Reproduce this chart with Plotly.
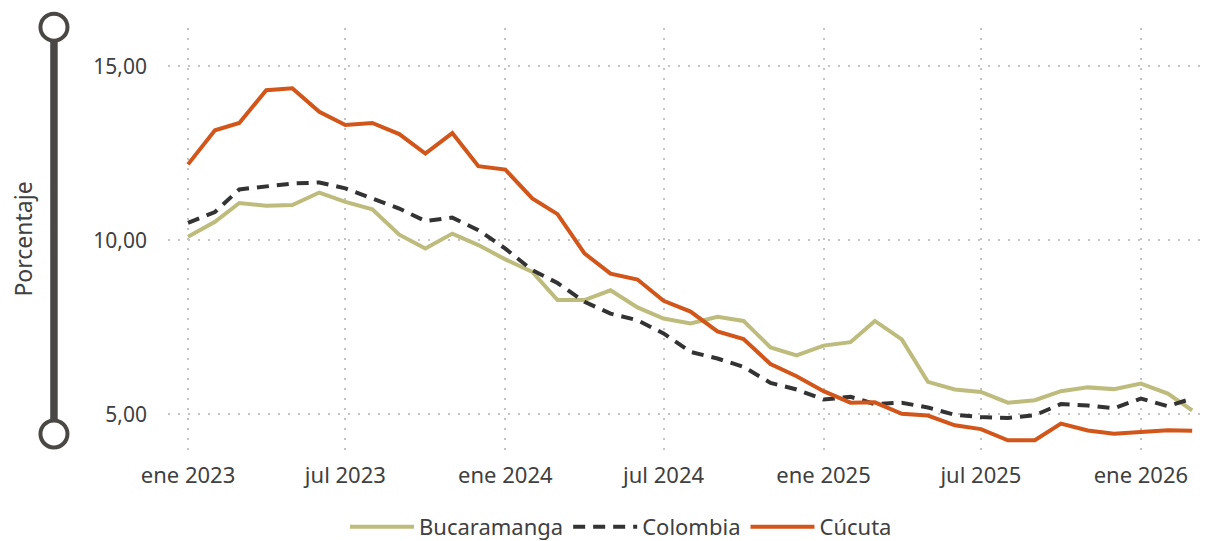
import plotly.graph_objects as go
import pandas as pd

# Monthly series, January 2023 to March 2026
months = pd.date_range("2023-01-01", "2026-03-01", freq="MS")

bucaramanga = [10.10, 10.53, 11.07, 10.99, 11.01, 11.37, 11.10, 10.89, 10.16, 9.76, 10.19, 9.86,
               9.45, 9.09, 8.28, 8.28, 8.56, 8.07, 7.75, 7.61, 7.80, 7.68, 6.92, 6.69,
               6.97, 7.07, 7.68, 7.15, 5.93, 5.71, 5.64, 5.33, 5.40, 5.66, 5.77, 5.72,
               5.88, 5.59, 5.11]
colombia = [10.50, 10.81, 11.46, 11.56, 11.63, 11.66, 11.49, 11.20, 10.91, 10.55, 10.65, 10.29,
            9.76, 9.14, 8.77, 8.23, 7.89, 7.70, 7.32, 6.79, 6.60, 6.36, 5.90, 5.71,
            5.42, 5.50, 5.29, 5.33, 5.19, 4.98, 4.92, 4.89, 4.97, 5.29, 5.25, 5.17,
            5.45, 5.23, 5.45]
cucuta = [12.18, 13.16, 13.37, 14.31, 14.37, 13.69, 13.31, 13.37, 13.05, 12.49, 13.08, 12.13,
          12.03, 11.20, 10.75, 9.62, 9.04, 8.87, 8.26, 7.95, 7.38, 7.16, 6.44, 6.09,
          5.66, 5.33, 5.34, 5.01, 4.96, 4.68, 4.57, 4.25, 4.25, 4.73, 4.53, 4.44,
          4.49, 4.54, 4.52]

x_tick_dates = ["2023-01-01", "2023-07-01", "2024-01-01", "2024-07-01",
                "2025-01-01", "2025-07-01", "2026-01-01"]
x_tick_labels = ["ene 2023", "jul 2023", "ene 2024", "jul 2024",
                 "ene 2025", "jul 2025", "ene 2026"]
y_tick_vals = [5, 10, 15]
y_tick_labels = ["5,00", "10,00", "15,00"]

FONT = "Noto Sans, Open Sans, sans-serif"
TEXT = "#404040"
GRID = "#c4c4c4"

fig = go.Figure()
fig.add_trace(go.Scatter(x=months, y=bucaramanga, name="Bucaramanga", mode="lines",
                         line=dict(color="#bdbc7d", width=4)))
fig.add_trace(go.Scatter(x=months, y=colombia, name="Colombia", mode="lines",
                         line=dict(color="#333333", width=4, dash="12px,8px")))
fig.add_trace(go.Scatter(x=months, y=cucuta, name="Cúcuta", mode="lines",
                         line=dict(color="#d2551a", width=4)))

# Decorative vertical "slider" beside the y axis
bar_x = -0.1105
fig.add_shape(type="line", xref="paper", yref="paper", x0=bar_x, x1=bar_x, y0=0.038, y1=1.002,
              line=dict(color="#4a4845", width=7.5), layer="above")
for yy in (1.002, 0.038):
    fig.add_shape(type="circle", xref="paper", yref="paper",
                  xsizemode="pixel", ysizemode="pixel", xanchor=bar_x, yanchor=yy,
                  x0=-13.5, x1=13.5, y0=-13.5, y1=13.5,
                  line=dict(color="#4a4845", width=4), fillcolor="white", layer="above")

fig.update_layout(
    width=1209, height=541,
    margin=dict(l=168, r=9, t=28, b=91),
    paper_bgcolor="white", plot_bgcolor="white",
    font=dict(family=FONT, size=22, color=TEXT),
    showlegend=True,
    legend=dict(orientation="h", xref="container", yref="container",
                x=621 / 1209, xanchor="center", y=1 - 527 / 541, yanchor="middle",
                font=dict(size=22, color=TEXT), itemwidth=64, tracegroupgap=0,
                bgcolor="rgba(0,0,0,0)"),
    xaxis=dict(range=["2022-12-09", "2026-03-10"], tickvals=x_tick_dates, ticktext=x_tick_labels,
               showgrid=True, gridcolor=GRID, gridwidth=1.5, griddash="2px,8px",
               showline=False, zeroline=False, ticks="", ticklabelstandoff=10,
               automargin=False, tickfont=dict(size=22, color=TEXT)),
    yaxis=dict(range=[3.97, 16.1], tickvals=y_tick_vals, ticktext=y_tick_labels,
               showgrid=True, gridcolor=GRID, gridwidth=1.5, griddash="2px,8px",
               showline=False, zeroline=False, ticks="", ticklabelstandoff=20,
               automargin=False, tickfont=dict(size=21, color=TEXT),
               title=dict(text="Porcentaje", font=dict(size=23, color=TEXT), standoff=54)),
)

fig.write_html("out.html")
